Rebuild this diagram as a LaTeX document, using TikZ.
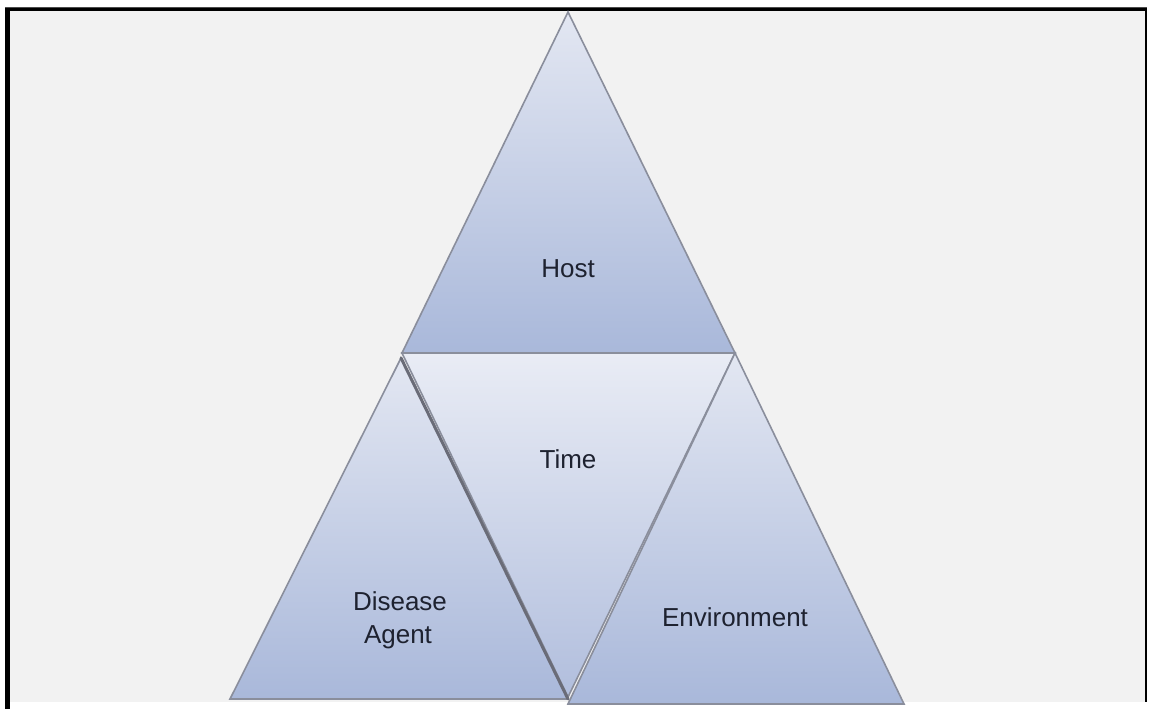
\documentclass[tikz,border=0pt]{standalone}
\usepackage{fontspec}
\setmainfont{Liberation Sans}
\begin{document}
\begin{tikzpicture}[x=1pt,y=-1pt,
  tri/.style={draw=edgegray, line width=1.6pt, line join=miter},
  lbl/.style={font=\fontsize{26}{31}\selectfont, text=textdark, inner sep=0pt, align=center}]
\definecolor{bggray}{HTML}{F2F2F2}
\definecolor{edgegray}{HTML}{8A8E9C}
\definecolor{edgedark}{HTML}{6A6C78}
\definecolor{textdark}{HTML}{1E2230}
\definecolor{triTop}{HTML}{E3E7F2}
\definecolor{triBot}{HTML}{A9B8DA}
\definecolor{timeTop}{HTML}{E9ECF5}
\definecolor{timeBot}{HTML}{B1BEDD}
\useasboundingbox (0,0) rectangle (1150,709);
\fill[white] (0,0) rectangle (1150,709);
% background panel
\fill[bggray] (9,11) rectangle (1145,702);
% frame
\fill[black!70] (5,7) rectangle (1147,8);
\fill[black] (5,8) rectangle (1147,11.5);
\fill[black] (5,8) rectangle (9.5,709);
\fill[black] (1145,8) rectangle (1147,702);
% coordinates
\coordinate (hA) at (568,12);
\coordinate (hL) at (402,353);
\coordinate (hR) at (735,353);
\coordinate (tB) at (568,697);
\coordinate (dA) at (401,358);
\coordinate (dL) at (230,699);
\coordinate (dR) at (568,699);
\coordinate (eL) at (568,704);
\coordinate (eR) at (904,704);
% Host
\path[tri, top color=triTop, bottom color=triBot] (hA) -- (hL) -- (hR) -- cycle;
% Time
\path[tri, top color=timeTop, bottom color=timeBot] (hL) -- (hR) -- (tB) -- cycle;
% Disease Agent
\path[tri, top color=triTop, bottom color=triBot] (dA) -- (dL) -- (dR) -- cycle;
\draw[edgedark, line width=3pt, line cap=round] (dA) -- (dR);
% Environment
\path[tri, top color=triTop, bottom color=triBot] (hR) -- (eL) -- (eR) -- cycle;
% labels
\node[lbl] (host) at (568,269) {Host};
\node[lbl] (time) at (568,459) {Time};
\node[lbl] (disease) at (400,601) {Disease};
\node[lbl] (agent) at (398,637) {Agent};
\node[lbl] (env) at (735,617) {Environment};
\end{tikzpicture}
\end{document}
